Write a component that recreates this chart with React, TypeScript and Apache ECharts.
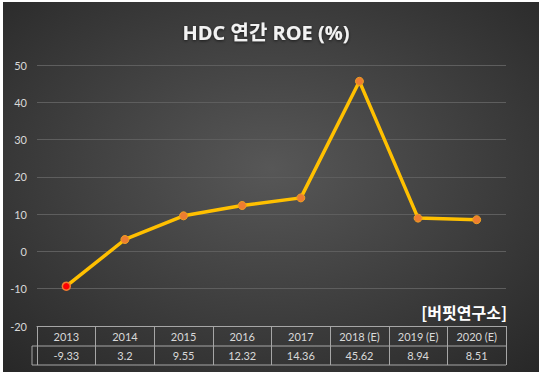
import React, { useEffect, useRef } from "react";
import * as echarts from "echarts";

const years = ["2013", "2014", "2015", "2016", "2017", "2018 (E)", "2019 (E)", "2020 (E)"];
const roe = [-9.33, 3.2, 9.55, 12.32, 14.36, 45.62, 8.94, 8.51];
const titleText = "HDC 연간 ROE (%)";
const sourceText = "[버핏연구소]";

const W = 536;
const H = 370;
const G = { left: 34, right: 33, top: 63, bottom: 46 };
const labelFont = "Lato, 'Noto Sans', sans-serif";
const tableLine = "#a6a6a6";

export default function App() {
  const ref = useRef<HTMLDivElement>(null);
  useEffect(() => {
    if (!ref.current) return;
    const chart = echarts.init(ref.current, undefined, { renderer: "svg" });
    const axisY = H - G.bottom;
    const row2 = axisY + 20;
    const row3 = axisY + 39;
    const tableLeft = G.left - 5;
    const tableRight = W - G.right;
    chart.setOption({
      animation: false,
      backgroundColor: {
        type: "radial",
        x: 0.5,
        y: 0.45,
        r: 0.75,
        colorStops: [
          { offset: 0, color: "#575757" },
          { offset: 1, color: "#272727" },
        ],
      },
      title: {
        text: titleText,
        left: 258,
        top: 15,
        textAlign: "center",
        textStyle: {
          color: "#f2f2f2",
          fontSize: 20,
          fontWeight: "bold",
          fontFamily: "'Open Sans', 'Noto Sans CJK KR', sans-serif",
          textShadowColor: "rgba(0,0,0,0.6)",
          textShadowBlur: 3,
          textShadowOffsetY: 1,
        },
      },
      grid: { left: G.left, right: G.right, top: G.top, bottom: G.bottom, containLabel: false },
      xAxis: [
        {
          type: "category",
          data: years,
          position: "bottom",
          boundaryGap: true,
          axisLine: { show: true, onZero: false, lineStyle: { color: tableLine, width: 1 } },
          axisTick: { show: true, length: 39, interval: 0, lineStyle: { color: tableLine, width: 1 } },
          axisLabel: { color: "#d9d9d9", fontSize: 11, fontFamily: labelFont, margin: 5, interval: 0 },
        },
        {
          type: "category",
          data: roe.map((v) => String(v)),
          position: "bottom",
          offset: 19,
          boundaryGap: true,
          axisLine: { show: false, onZero: false },
          axisTick: { show: false },
          axisLabel: { color: "#d9d9d9", fontSize: 11, fontFamily: labelFont, margin: 5, interval: 0 },
        },
      ],
      yAxis: {
        type: "value",
        min: -20,
        max: 50,
        interval: 10,
        axisLine: { show: false },
        axisTick: { show: false },
        axisLabel: { color: "#d9d9d9", fontSize: 11, fontFamily: labelFont, margin: 10 },
        splitLine: { lineStyle: { color: "#5e5e5e", width: 1 } },
      },
      series: [
        {
          type: "line",
          xAxisIndex: 0,
          data: roe.map((v, i) =>
            i === 0
              ? { value: v, itemStyle: { color: "#ff0000", borderColor: "#ed7d31", borderWidth: 1.5 } }
              : v
          ),
          symbol: "circle",
          symbolSize: 8,
          lineStyle: { color: "#ffc000", width: 3.5, cap: "round", join: "round" },
          itemStyle: { color: "#ed7d31", borderColor: "#f0a020", borderWidth: 1 },
          z: 5,
        },
      ],
      graphic: [
        {
          type: "line",
          shape: { x1: tableLeft, y1: row2, x2: tableRight, y2: row2 },
          style: { stroke: tableLine, lineWidth: 1 },
        },
        {
          type: "line",
          shape: { x1: tableLeft, y1: row3, x2: tableRight, y2: row3 },
          style: { stroke: tableLine, lineWidth: 1 },
        },
        {
          type: "line",
          shape: { x1: tableLeft, y1: row2, x2: tableLeft, y2: row3 },
          style: { stroke: tableLine, lineWidth: 1 },
        },
        {
          type: "text",
          right: G.right - 1,
          top: axisY - 22,
          style: {
            text: sourceText,
            fill: "#ffffff",
            fontSize: 16,
            fontWeight: "bold",
            fontFamily: "'Noto Sans CJK KR', sans-serif",
          },
        },
      ],
    });
    return () => chart.dispose();
  }, []);
  return (
    <div style={{ position: "absolute", left: 0, top: 0, width: 543, height: 377, background: "#ffffff" }}>
      <div ref={ref} style={{ position: "absolute", left: 3, top: 2, width: W, height: H }} />
    </div>
  );
}
